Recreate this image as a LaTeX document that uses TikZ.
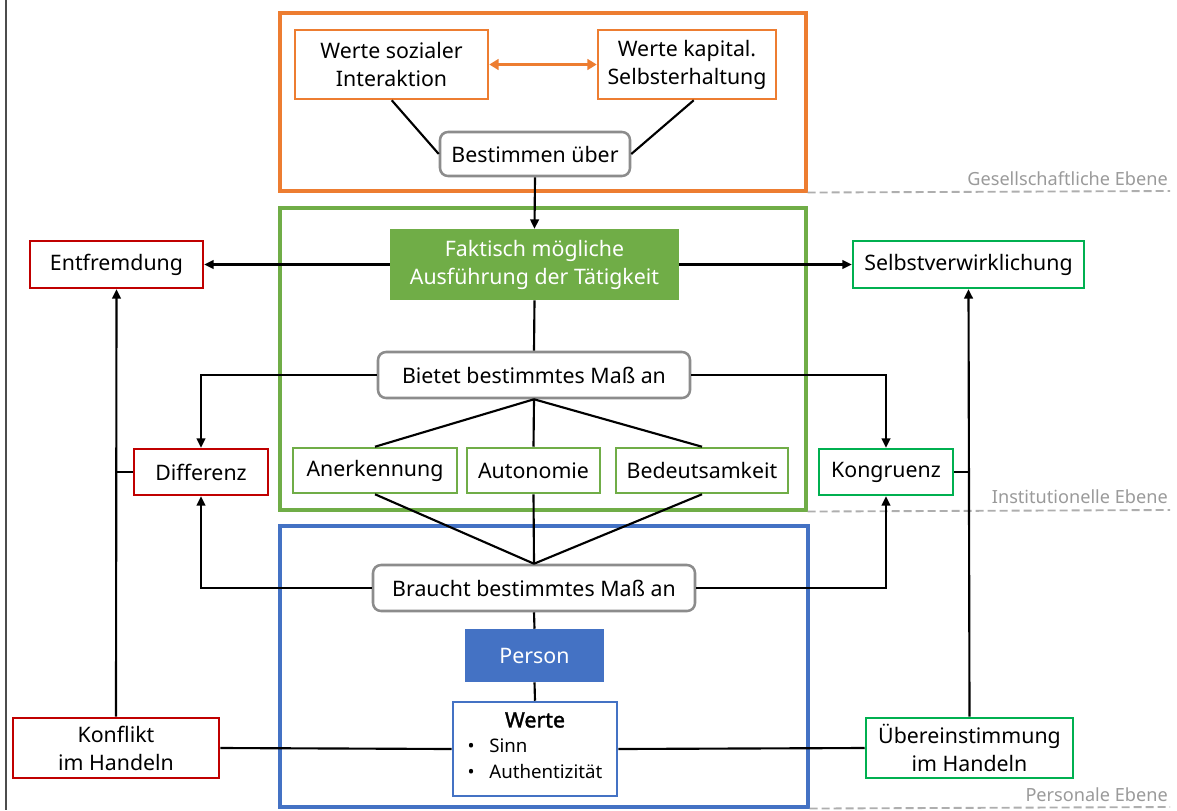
\documentclass[tikz,border=0pt]{standalone}
\usepackage{fontspec}
\setmainfont{Noto Sans}
\newfontfamily\boldnoto{Noto Sans}[FakeBold=1.6]
\usetikzlibrary{calc,arrows.meta}
\definecolor{cOrange}{HTML}{ED7D31}
\definecolor{cLGreen}{HTML}{70AD47}
\definecolor{cBlue}{HTML}{4472C4}
\definecolor{cRed}{HTML}{C00000}
\definecolor{cBGreen}{HTML}{00B050}
\definecolor{cGrayBox}{HTML}{8C8C8C}
\definecolor{cLevel}{HTML}{9A9A9A}
\begin{document}
\begin{tikzpicture}[x=0.75pt,y=-0.75pt,
  every node/.style={font=\fontsize{16}{21}\selectfont, inner sep=0pt, align=center},
  box at/.style n args={4}{minimum width={(#3-#1)*0.75pt}, minimum height={(#4-#2)*0.75pt}, at={({(#1+#3)/2},{(#2+#4)/2})}},
  frame/.style={draw, line width=2.3pt},
  bx/.style={draw, line width=1.9pt, fill=white},
  rbox/.style={bx, draw=cGrayBox, rounded corners=6pt},
  obox/.style={bx, draw=cOrange},
  gbox/.style={bx, draw=cLGreen},
  redbox/.style={bx, draw=cRed},
  bgbox/.style={bx, draw=cBGreen},
  conn/.style={line width=1.6pt, black},
  arr/.style={conn, -{Triangle[length=7pt,width=6.5pt]}},
  dashline/.style={draw=cLevel!80, line width=1.4pt, dash pattern=on 6pt off 3pt},
  lvl/.style={text=cLevel, font=\fontsize{13.6}{16}\selectfont}
]
\useasboundingbox (0,0) rectangle (1177,810);
\draw[line width=1.4pt, black!70] (6,0) -- (6,810);

% frames
\node[frame, draw=cOrange, box at={280}{13}{806}{191}] (fo) {};
\node[frame, draw=cLGreen, box at={280}{208}{806}{510}] (fg) {};
\node[frame, draw=cBlue, box at={280}{526}{808}{807}] (fb) {};

% top
\node[obox, box at={295}{30}{488}{99}] (wsi) {Werte sozialer\\Interaktion};
\node[obox, box at={598}{30}{776}{99}] (wks) {Werte kapital.\\Selbsterhaltung};
\node[rbox, box at={440}{132}{630}{176}] (best) {Bestimmen über};

% middle
\node[bx, draw=cLGreen, fill=cLGreen, text=white, box at={391}{230}{678}{299}] (fakt) {Faktisch mögliche\\Ausführung der Tätigkeit};
\node[redbox, box at={30}{241}{203}{288}] (entf) {Entfremdung};
\node[bgbox, box at={853}{241}{1084}{288}] (selbst) {Selbstverwirklichung};
\node[rbox, box at={378}{352}{690}{398}] (biet) {Bietet bestimmtes Maß an};
\node[gbox, box at={293}{448}{457}{493}] (aner) {Anerkennung};
\node[gbox, box at={467}{448}{600}{493}] (auto) {Autonomie};
\node[gbox, box at={616}{448}{788}{493}] (bedeu) {Bedeutsamkeit};
\node[redbox, box at={134}{449}{268}{495}] (diff) {Differenz};
\node[bgbox, box at={819}{449}{953}{495}] (kong) {Kongruenz};

% bottom
\node[rbox, box at={373}{565}{695}{611}] (brau) {Braucht bestimmtes Maß an};
\node[bx, draw=cBlue, fill=cBlue, text=white, box at={466}{630}{603}{681}] (person) {Person};
\node[bx, draw=cBlue, box at={453}{702}{617}{796}] (werte) {\raisebox{-3pt}{\boldnoto Werte}\\[1pt]{\fontsize{14}{19}\selectfont\begin{tabular}[t]{@{}l@{\hspace{11pt}}l@{}}\textbullet & Sinn\\ \textbullet & Authentizität\end{tabular}}};
\node[redbox, box at={13}{718}{219}{778}] (konf) {Konflikt\\im Handeln};
\node[bgbox, box at={866}{718}{1073}{778}] (ueber) {Übereinstimmung\\im Handeln};

% level lines
\coordinate (d1) at (1170,191);
\coordinate (d2) at (1170,510);
\coordinate (d3) at (1170,807);
\draw[dashline] (fo.south east) -- (d1);
\draw[dashline] (fg.south east) -- (d2);
\draw[dashline] (fb.south east) -- (d3);
\node[lvl, anchor=base east] (l1) at (1168,185) {Gesellschaftliche Ebene};
\node[lvl, anchor=base east] (l2) at (1168,503) {Institutionelle Ebene};
\node[lvl, anchor=base east] (l3) at (1168,801) {Personale Ebene};

% connectors
\draw[line width=2.2pt, cOrange, {Triangle[length=7pt,width=8pt]}-{Triangle[length=7pt,width=8pt]}] (wsi.east) -- (wks.west);
\draw[conn] ($(wsi.south west)+(98,0)$) -- (best.west);
\draw[conn] ($(wks.south west)+(97,0)$) -- (best.east);
\draw[arr] (best.south) -- (fakt.north);
\draw[arr] (fakt.west) -- (entf.east);
\draw[arr] (fakt.east) -- (selbst.west);
\draw[conn] (fakt.south) -- (biet.north);
\draw[arr] (biet.west) -| (diff.north);
\draw[arr] (biet.east) -| (kong.north);
\draw[conn] (biet.south) -- (aner.north);
\draw[conn] (biet.south) -- (auto.north);
\draw[conn] (biet.south) -- (bedeu.north);
\draw[conn] (aner.south) -- (brau.north);
\draw[conn] (auto.south) -- (brau.north);
\draw[conn] (bedeu.south) -- (brau.north);
\draw[arr] (brau.west) -| (diff.south);
\draw[arr] (brau.east) -| (kong.south);
\draw[conn] (brau.south) -- (person.north);
\draw[conn] (person.south) -- (werte.north);
\draw[conn] (konf.east) -- (werte.west);
\draw[conn] (werte.east) -- (ueber.west);
\draw[arr] (konf.north) -- (entf.south);
\draw[arr] (ueber.north) -- (selbst.south);
\draw[conn] (diff.west) -- (diff.west -| konf.north);
\draw[conn] (kong.east) -- (kong.east -| ueber.north);
\end{tikzpicture}
\end{document}
